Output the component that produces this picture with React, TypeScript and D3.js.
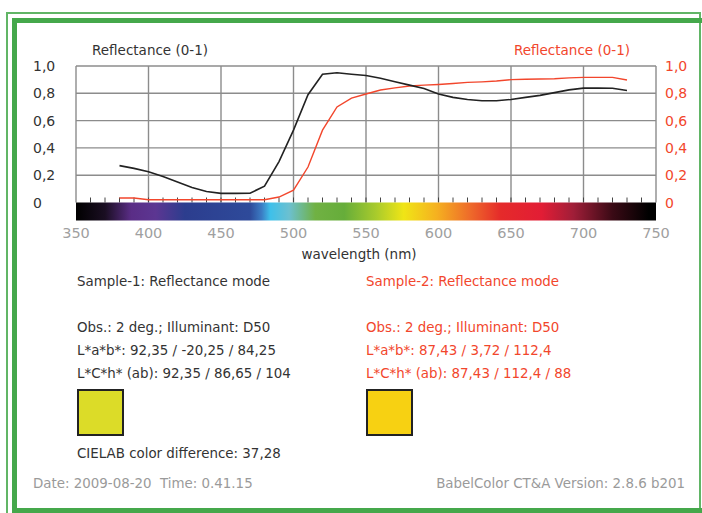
import React from 'react';
import * as d3 from 'd3';

// wavelengths in nm, 10nm steps
const wavelengths = [380, 390, 400, 410, 420, 430, 440, 450, 460, 470, 480, 490, 500, 510, 520, 530, 540, 550, 560, 570, 580, 590, 600, 610, 620, 630, 640, 650, 660, 670, 680, 690, 700, 710, 720, 730];
const sample1 = [0.27, 0.25, 0.225, 0.19, 0.15, 0.11, 0.08, 0.067, 0.067, 0.068, 0.12, 0.3, 0.53, 0.79, 0.94, 0.95, 0.94, 0.93, 0.91, 0.885, 0.86, 0.835, 0.795, 0.77, 0.755, 0.745, 0.745, 0.755, 0.77, 0.785, 0.805, 0.825, 0.838, 0.838, 0.837, 0.82];
const sample2 = [0.033, 0.033, 0.02, 0.02, 0.02, 0.02, 0.02, 0.02, 0.02, 0.02, 0.02, 0.04, 0.09, 0.26, 0.53, 0.7, 0.765, 0.795, 0.824, 0.84, 0.853, 0.86, 0.865, 0.872, 0.88, 0.884, 0.89, 0.9, 0.903, 0.905, 0.907, 0.913, 0.917, 0.917, 0.917, 0.897];

const xTicks = [350, 400, 450, 500, 550, 600, 650, 700, 750];
const yTicks = [0, 0.2, 0.4, 0.6, 0.8, 1.0];
const yTickLabels = ['0', '0,2', '0,4', '0,6', '0,8', '1,0'];

// visible spectrum stops (nm, colour)
const spectrumNm = [350, 370, 388, 405, 425, 470, 478, 484, 497, 515, 535, 557, 576, 599, 622, 643, 671, 693, 720, 745];
const spectrumColors = ['#000000', '#1a0e22', '#5a2d86', '#5c3692', '#2c3d8e', '#2e4a9a', '#3b7cc4', '#3ec0ea', '#6cc0d0', '#70b143', '#66ad3a', '#a9cb2c', '#f0e516', '#f5b020', '#ee6a2a', '#e52a2a', '#e21d35', '#a01e38', '#3a0a15', '#000000'];

const sample1Lines = ['Obs.: 2 deg.; Illuminant: D50', 'L*a*b*: 92,35 / -20,25 / 84,25', 'L*C*h* (ab): 92,35 / 86,65 / 104'];
const sample2Lines = ['Obs.: 2 deg.; Illuminant: D50', 'L*a*b*: 87,43 / 3,72 / 112,4', 'L*C*h* (ab): 87,43 / 112,4 / 88'];

const W = 702;
const H = 513;
const RED = '#f2462c';
const DARK = '#333';
const GREEN = '#45a84b';
const FONT = "'DejaVu Sans', Verdana, sans-serif";
const FS = 13.4;

export default function App() {
  const x = d3.scaleLinear().domain([350, 750]).range([76, 656]);
  const y = d3.scaleLinear().domain([0, 1]).range([202.5, 66]);
  const line = d3
    .line<number>()
    .x((_, i) => x(wavelengths[i]))
    .y((d) => y(d));
  const minorTicks = d3.range(360, 750, 10);

  return (
    <svg width={W} height={H} style={{ position: 'absolute', left: 0, top: 0, background: '#fff' }} fontFamily={FONT}>
      <defs>
        <linearGradient id="spectrum" x1="0" x2="1" y1="0" y2="0">
          {spectrumNm.map((nm, i) => (
            <stop key={nm} offset={(nm - 350) / 400} stopColor={spectrumColors[i]} />
          ))}
        </linearGradient>
      </defs>
      <rect width={W} height={H} fill="#fff" />

      {/* green frame */}
      <rect x={7} y={13} width={693} height={520} fill="none" stroke={GREEN} strokeWidth={2} opacity={0.85} />
      <rect x={14.5} y={20.5} width={700} height={490} fill="none" stroke={GREEN} strokeWidth={5} />

      {/* grid */}
      {yTicks.filter((t) => t > 0).map((t) => (
        <line key={'h' + t} x1={x(350)} x2={x(750)} y1={y(t)} y2={y(t)} stroke="#8c8c8c" strokeWidth={1.4} />
      ))}
      {xTicks.map((t) => (
        <line key={'v' + t} x1={x(t)} x2={x(t)} y1={y(1)} y2={y(0)} stroke="#8c8c8c" strokeWidth={1.4} />
      ))}
      {minorTicks.map((t) => (
        <line key={'m' + t} x1={x(t)} x2={x(t)} y1={y(0) - 5} y2={y(0)} stroke="#444" strokeWidth={1} />
      ))}

      {/* spectrum bar */}
      <rect x={x(350)} y={y(0)} width={x(750) - x(350)} height={18} fill="url(#spectrum)" />

      {/* curves */}
      <path d={line(sample2) || ''} fill="none" stroke={RED} strokeWidth={1.4} />
      <path d={line(sample1) || ''} fill="none" stroke="#222" strokeWidth={1.6} />

      {/* axis titles */}
      <text x={92} y={55} fontSize={13.5} fill={DARK}>Reflectance (0-1)</text>
      <text x={630} y={55} fontSize={13.5} fill={RED} textAnchor="end">Reflectance (0-1)</text>

      {/* y labels */}
      {yTicks.map((t, i) => (
        <text key={'yl' + t} x={33} y={y(t) + 5} fontSize={14} fill={DARK}>{yTickLabels[i]}</text>
      ))}
      {yTicks.map((t, i) => (
        <text key={'yr' + t} x={665} y={y(t) + 5} fontSize={14} fill={RED}>{yTickLabels[i]}</text>
      ))}

      {/* x labels */}
      {xTicks.map((t) => (
        <text key={'xl' + t} x={x(t)} y={238} fontSize={14.5} fill="#a0a0a0" textAnchor="middle">{t}</text>
      ))}
      <text x={359} y={259} fontSize={13.5} fill={DARK} textAnchor="middle">wavelength (nm)</text>

      {/* sample info */}
      <text x={77} y={286} fontSize={FS} fill={DARK}>Sample-1: Reflectance mode</text>
      {sample1Lines.map((s, i) => (
        <text key={'s1' + i} x={77} y={332 + i * 23} fontSize={FS} fill={DARK}>{s}</text>
      ))}
      <rect x={78} y={390} width={45} height={45} fill="#dcdc28" stroke="#222" strokeWidth={2} />
      <text x={77} y={458} fontSize={FS} fill={DARK}>CIELAB color difference: 37,28</text>

      <text x={366} y={286} fontSize={FS} fill={RED}>Sample-2: Reflectance mode</text>
      {sample2Lines.map((s, i) => (
        <text key={'s2' + i} x={366} y={332 + i * 23} fontSize={FS} fill={RED}>{s}</text>
      ))}
      <rect x={367} y={390} width={45} height={45} fill="#f7d112" stroke="#222" strokeWidth={2} />

      <text x={33} y={488} fontSize={FS} fill="#9a9a9a">Date: 2009-08-20</text>
      <text x={160} y={488} fontSize={FS} fill="#9a9a9a">Time: 0.41.15</text>
      <text x={685} y={488} fontSize={FS} fill="#9a9a9a" textAnchor="end">BabelColor CT&amp;A Version: 2.8.6 b201</text>
    </svg>
  );
}
